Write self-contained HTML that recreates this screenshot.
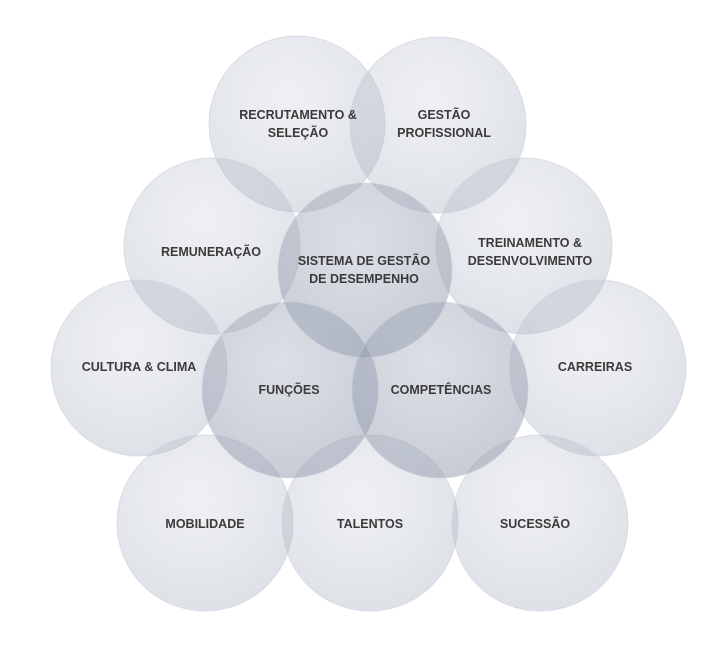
<!DOCTYPE html>
<html><head><meta charset="utf-8"><style>
html,body{margin:0;padding:0;background:#fff;}
svg{display:block}
text{font-family:"Liberation Sans",sans-serif;font-weight:bold;font-size:12.5px;fill:#3b3b3b;text-anchor:middle}
</style></head><body>
<svg width="726" height="656" viewBox="0 0 726 656">
<defs>
<radialGradient id="g" cx="0.45" cy="0.35" r="0.7">
<stop offset="0" stop-color="#b4bccb" stop-opacity="0.22"/>
<stop offset="1" stop-color="#9aa3b5" stop-opacity="0.34"/>
</radialGradient>
<radialGradient id="gd" cx="0.45" cy="0.35" r="0.7">
<stop offset="0" stop-color="#9ea7b8" stop-opacity="0.36"/>
<stop offset="1" stop-color="#8891a5" stop-opacity="0.48"/>
</radialGradient>
</defs>
<g stroke="#c9ced8" stroke-width="1" stroke-opacity="0.6">
<circle cx="297" cy="124" r="88" fill="url(#g)"/>
<circle cx="438" cy="125" r="88" fill="url(#g)"/>
<circle cx="212" cy="246" r="88" fill="url(#g)"/>
<circle cx="524" cy="246" r="88" fill="url(#g)"/>
<circle cx="139" cy="368" r="88" fill="url(#g)"/>
<circle cx="598" cy="368" r="88" fill="url(#g)"/>
<circle cx="205" cy="523" r="88" fill="url(#g)"/>
<circle cx="370" cy="523" r="88" fill="url(#g)"/>
<circle cx="540" cy="523" r="88" fill="url(#g)"/>
<circle cx="365" cy="270" r="87" fill="url(#gd)"/>
<circle cx="290" cy="390" r="88" fill="url(#gd)"/>
<circle cx="440" cy="390" r="88" fill="url(#gd)"/>
</g>
<text x="298" y="119">RECRUTAMENTO &amp;</text>
<text x="298" y="137">SELEÇÃO</text>
<text x="444" y="119">GESTÃO</text>
<text x="444" y="137">PROFISSIONAL</text>
<text x="211" y="256">REMUNERAÇÃO</text>
<text x="364" y="265">SISTEMA DE GESTÃO</text>
<text x="364" y="283">DE DESEMPENHO</text>
<text x="530" y="247">TREINAMENTO &amp;</text>
<text x="530" y="265">DESENVOLVIMENTO</text>
<text x="139" y="371">CULTURA &amp; CLIMA</text>
<text x="289" y="394">FUNÇÕES</text>
<text x="441" y="394">COMPETÊNCIAS</text>
<text x="595" y="371">CARREIRAS</text>
<text x="205" y="528">MOBILIDADE</text>
<text x="370" y="528">TALENTOS</text>
<text x="535" y="528">SUCESSÃO</text>
</svg>
</body></html>
